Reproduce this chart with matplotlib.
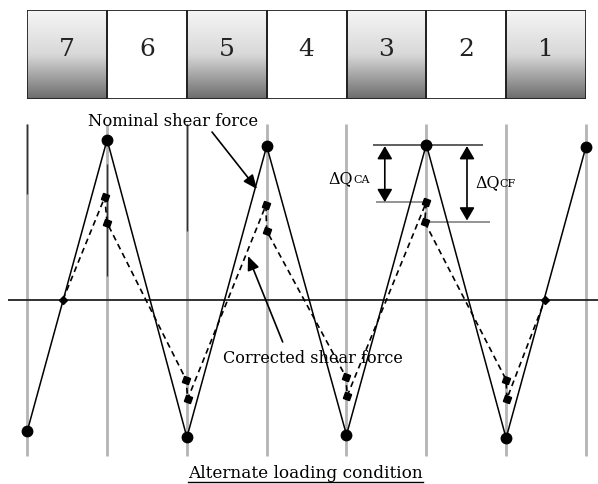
import numpy as np
import matplotlib
matplotlib.use("Agg")
import matplotlib.pyplot as plt
from matplotlib.colors import LinearSegmentedColormap
from matplotlib.patches import Rectangle
from matplotlib.lines import Line2D

# ---------------- data ----------------
panel_labels = ["7", "6", "5", "4", "3", "2", "1"]
panel_loaded = [True, False, True, False, True, False, True]

stations = [0, 1, 2, 3, 4, 5, 6, 7]
nominal_shear = [-0.82, 1.00, -0.86, 0.96, -0.845, 0.97, -0.865, 0.955]

zero_x = [0.447, 6.487]
zero_y = [0.0, 0.0]

corrected_x = [0.447, 0.97, 1.0, 1.99, 2.01, 2.99, 3.0, 3.99, 4.01, 5.0, 4.98, 6.0, 6.01, 6.487]
corrected_y = [0.0, 0.64, 0.48, -0.50, -0.62, 0.59, 0.43, -0.48, -0.60, 0.61, 0.485, -0.50, -0.62, 0.0]

plt.rcParams['font.family'] = ['DejaVu Serif']

fig = plt.figure(figsize=(5.98, 4.85), dpi=100)

# ---------------- main diagram ----------------
ax = fig.add_axes([0, 0, 1, 1])
ax.set_xlim(-27.3 / 79.8, (598 - 27.3) / 79.8)
ax.set_ylim((300.7 - 485) / 160, 300.7 / 160)
ax.axis('off')

ax.vlines(stations, -0.977, 1.098, color='#b4b4b4', lw=2.0, zorder=1)
# darker pieces of some station lines
for s, y0, y1 in [(0, 1.098, 0.66), (1, 0.85, 0.15), (2, 1.098, 0.43)]:
    ax.vlines(s, y1, y0, color='#333333', lw=1.0, zorder=1.5)

ax.hlines(0, -0.242, 7.2, color='#222222', lw=1.3, zorder=2)

ax.plot(corrected_x, corrected_y, color='black', lw=1.2, ls=(0, (3.5, 2.5)), zorder=3)
ax.plot(corrected_x[1:-1], corrected_y[1:-1], ls='none', marker=(4, 0, 25), ms=6.5,
        color='black', zorder=4)
ax.plot(stations, nominal_shear, color='black', lw=1.1, marker='o', ms=7.5, zorder=4)
ax.plot(zero_x, zero_y, ls='none', marker='D', ms=4.5, color='black', zorder=4)

# reference lines for the differences at station 5
ax.hlines(nominal_shear[5], 4.33, 5.71, color='#333333', lw=1.1)
ax.hlines(corrected_y[9], 4.37, 5.0, color='#777777', lw=1.1)
ax.hlines(corrected_y[10], 5.0, 5.80, color='#777777', lw=1.1)

darrow = dict(arrowstyle='<|-|>,head_length=0.65,head_width=0.38', color='black', lw=1.2,
              shrinkA=0, shrinkB=0, mutation_scale=12)
ax.annotate('', xy=(4.48, nominal_shear[5] - 0.01), xytext=(4.48, corrected_y[9]), arrowprops=darrow)
ax.annotate('', xy=(5.51, nominal_shear[5] - 0.01), xytext=(5.51, corrected_y[10] + 0.01), arrowprops=darrow)

ax.text(4.08, 0.735, 'ΔQ', ha='right', va='baseline', fontsize=11.5)
ax.text(4.08, 0.735, 'CA', ha='left', va='baseline', fontsize=8)
ax.text(5.92, 0.71, 'ΔQ', ha='right', va='baseline', fontsize=11.5)
ax.text(5.92, 0.71, 'CF', ha='left', va='baseline', fontsize=8)

sarrow = dict(arrowstyle='-|>,head_length=0.7,head_width=0.3', color='black', lw=1.2,
              shrinkA=0, shrinkB=0, mutation_scale=12)
ax.text(1.826, 1.123, 'Nominal shear force', ha='center', va='center', fontsize=11.8)
ax.annotate('', xy=(2.878, 0.692), xytext=(2.315, 1.048), arrowprops=sarrow)
ax.text(3.58, -0.36, 'Corrected shear force', ha='center', va='center', fontsize=11.6)
ax.annotate('', xy=(2.766, 0.273), xytext=(3.2, -0.264), arrowprops=sarrow)

title = ax.text(3.49, -1.077, 'Alternate loading condition', ha='center', va='center', fontsize=12.2)

# ---------------- panel strip on top ----------------
bx = fig.add_axes([27.3 / 598, (485 - 99.5) / 485, 7 * 79.8 / 598, 88.8 / 485])
shade = LinearSegmentedColormap.from_list('shade', ['#f6f6f6', '#d8d8d8', '#6c6c6c'])
grad = np.linspace(0, 1, 256).reshape(-1, 1)
for i, (lab, loaded) in enumerate(zip(panel_labels, panel_loaded)):
    if loaded:
        bx.imshow(grad, cmap=shade, extent=(i, i + 1, 0, 1), aspect='auto', origin='upper')
    bx.add_patch(Rectangle((i, 0), 1, 1, fill=False, ec='#222222', lw=1.3))
    bx.text(i + 0.5, 0.56, lab, ha='center', va='center', fontsize=18, color='#222222')
bx.set_xlim(0, 7)
bx.set_ylim(0, 1)
bx.axis('off')

# underline for the caption
fig.canvas.draw()
bb = title.get_window_extent().transformed(fig.transFigure.inverted())
fig.add_artist(Line2D([bb.x0, bb.x1], [bb.y0 - 0.004, bb.y0 - 0.004], color='black', lw=1.0))

fig.savefig('out.png', dpi=100)
